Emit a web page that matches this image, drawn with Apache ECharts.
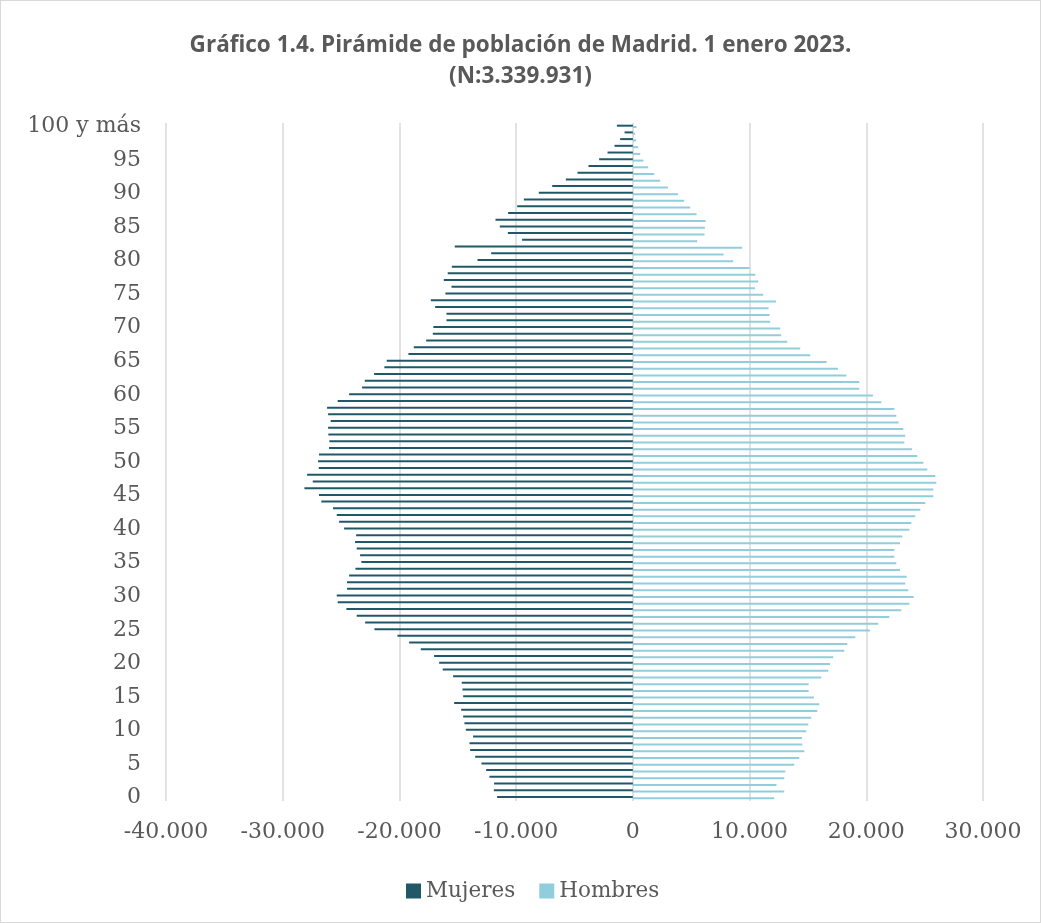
<!DOCTYPE html>
<html>
<head>
<meta charset="utf-8">
<title>Pirámide de población de Madrid 2023</title>
<script src="https://cdn.jsdelivr.net/npm/echarts@6/dist/echarts.min.js"></script>
<style>
    html, body { margin: 0; padding: 0; background: #fff; }
    #piramide_echarts {
        width: 1039px;
        height: 921px;
        border: 1px solid #d9d9d9;
    }
</style>
</head>
<body>
<div id="piramide_echarts"></div>
<script>
// edades 0..100 (de abajo hacia arriba)
var edades = [];
for (var i = 0; i < 100; i++) edades.push(String(i));
edades.push('100 y más');

var mujeres = [
    11630, 11910, 11890, 12290, 12570, 12970, 13510, 13940, 14000, 13690,
    14310, 14430, 14540, 14710, 15310, 14540, 14600, 14660, 15400, 16290,
    16600, 17030, 18170, 19170, 20170, 22140, 22940, 23660, 24540, 25290,
    25370, 24490, 24490, 24310, 23770, 23260, 23370, 23660, 23800, 23710,
    24740, 25170, 25370, 25690, 26690, 26890, 28140, 27430, 27910, 26910,
    26970, 26890, 26030, 26000, 26090, 26110, 25890, 26110, 26200, 25290,
    24310, 23200, 22970, 22170, 21290, 21090, 19230, 18770, 17710, 17140,
    17090, 15970, 15970, 16940, 17310, 16060, 15540, 16200, 15860, 15510,
    13310, 12140, 15260, 9490, 10710, 11400, 11770, 10690, 9910, 9340,
    8060, 6910, 5740, 4740, 3800, 2890, 2170, 1570, 1090, 710,
    1370
];

var hombres = [
    12110, 12970, 12310, 12970, 13060, 13830, 14260, 14690, 14510, 14490,
    14860, 15030, 15290, 15800, 15970, 15510, 15060, 15060, 16140, 16740,
    16890, 17170, 18110, 18370, 19060, 20310, 21030, 21970, 23000, 23690,
    24060, 23600, 23340, 23460, 22890, 22570, 22400, 22400, 22890, 23090,
    23690, 23860, 24200, 24630, 25060, 25740, 25740, 26000, 25910, 25230,
    24890, 24370, 23910, 23260, 23340, 23170, 22770, 22570, 22400, 21290,
    20570, 19400, 19400, 18290, 17570, 16600, 15200, 14340, 13230, 12710,
    12630, 11770, 11710, 11630, 12260, 11170, 10460, 10740, 10490, 10000,
    8600, 7770, 9370, 5510, 6140, 6170, 6230, 5460, 4910, 4400,
    3860, 3000, 2340, 1830, 1310, 910, 630, 460, 290, 200,
    310
];

var ejeMin = -40000;
var ejeMax = 30000;
var ejePaso = 10000;

function miles(v) {
    var s = String(Math.abs(v)).replace(/\B(?=(\d{3})+(?!\d))/g, '.');
    return (v < 0 ? '-' : '') + s;
}

document.addEventListener('DOMContentLoaded', function () {
    var chartDom = document.getElementById('piramide_echarts');
    var myChart = echarts.init(chartDom);
    var option;

    var fuenteEjes = 'DejaVu Serif';

    option = {
        backgroundColor: '#ffffff',
        title: {
            text: 'Gráfico 1.4. Pirámide de población de Madrid. 1 enero 2023.\n(N:3.339.931)',
            left: 'center',
            top: 24,
            textStyle: {
                fontFamily: 'Open Sans',
                fontWeight: 'bold',
                fontSize: 22.5,
                lineHeight: 31,
                color: '#595959'
            }
        },
        tooltip: {
            trigger: 'axis',
            axisPointer: { type: 'shadow' },
            formatter: function (params) {
                var txt = params[0].name;
                params.forEach(function (p) {
                    txt += '<br/>' + p.marker + p.seriesName + ': ' + miles(Math.abs(p.value));
                });
                return txt;
            }
        },
        legend: {
            data: ['Mujeres', 'Hombres'],
            left: 400,
            top: 874,
            icon: 'rect',
            itemWidth: 15,
            itemHeight: 15,
            itemGap: 24,
            textStyle: {
                fontFamily: fuenteEjes,
                fontSize: 21.5,
                color: '#595959'
            }
        },
        grid: {
            left: 165,
            right: 57,
            top: 122,
            bottom: 121
        },
        xAxis: {
            type: 'value',
            min: ejeMin,
            max: ejeMax,
            interval: ejePaso,
            axisLine: { show: false },
            axisTick: { show: false },
            splitLine: { lineStyle: { color: '#d9d9d9', width: 1.5 } },
            axisLabel: {
                formatter: miles,
                margin: 20,
                fontFamily: fuenteEjes,
                fontSize: 22,
                color: '#595959'
            }
        },
        yAxis: {
            type: 'category',
            data: edades,
            axisLine: { show: false },
            axisTick: { show: false },
            axisLabel: {
                interval: 4,
                margin: 25,
                fontFamily: fuenteEjes,
                fontSize: 22,
                color: '#595959'
            }
        },
        series: [
            {
                name: 'Mujeres',
                type: 'bar',
                barWidth: 2,
                barGap: '-33%',
                itemStyle: { color: '#215868' },
                data: mujeres.map(function (v) { return -v; })
            },
            {
                name: 'Hombres',
                type: 'bar',
                barWidth: 2,
                itemStyle: { color: '#92cddc' },
                data: hombres
            }
        ]
    };

    option && myChart.setOption(option);
});
</script>
</body>
</html>
